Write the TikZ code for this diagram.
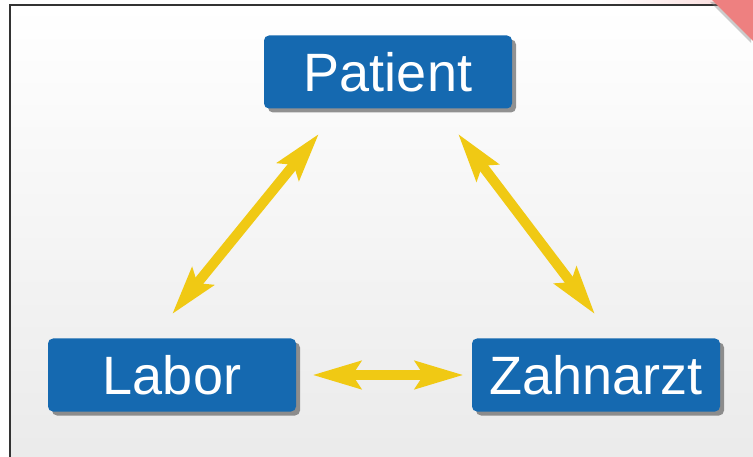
\documentclass[tikz,border=0pt]{standalone}
\usepackage{fontspec}
\setmainfont{Liberation Sans}
\usetikzlibrary{shapes,arrows.meta,positioning,shadows,calc}
\definecolor{nodecolor}{RGB}{21,105,176}
\definecolor{arrowcolor}{RGB}{240,201,20}
\definecolor{framecolor}{RGB}{51,51,51}
\definecolor{ribboncolor}{RGB}{238,128,128}

\begin{document}
\begin{tikzpicture}[
    x=1pt, y=-1pt,
    party/.style={rectangle, fill=nodecolor, rounded corners=5pt, minimum width=248pt, minimum height=73pt, inner sep=0pt, text=white, font=\fontsize{54}{60}\selectfont, drop shadow={shadow xshift=4pt, shadow yshift=-4pt, opacity=0.6, fill=black!70}},
    arrow/.style={{Stealth[length=48pt 0, width=27pt 0, inset=8pt 0]}-{Stealth[length=48pt 0, width=27pt 0, inset=8pt 0]}, line width=10pt, draw=arrowcolor, fill=arrowcolor}
]
\useasboundingbox (0,0) rectangle (753,457);

% Background and frame
\shade[top color=white, bottom color=black!8] (10,5) rectangle (753,457);
\shade[left color=white, right color=ribboncolor!25] (600,0) rectangle (716,4);
\draw[framecolor, line width=1.5pt] (10,457) -- (10,5) -- (740,5);
\fill[ribboncolor, drop shadow={shadow xshift=-2pt, shadow yshift=-2pt, opacity=0.4}] (712,0) -- (753,0) -- (753,41) -- cycle;

% Nodes
\node[party] (patient) at (388,72) {Patient};
\node[party] (labor) at (172,375) {Labor};
\node[party] (zahnarzt) at (596,375) {Zahnarzt};

% Arrows
\draw[arrow] ([yshift=24pt]labor.north) -- ([xshift=-69pt, yshift=-25pt]patient.south);
\draw[arrow] ([xshift=70pt, yshift=-25pt]patient.south) -- ([xshift=-1pt, yshift=24pt]zahnarzt.north);
\draw[arrow] ([xshift=16pt]labor.east) -- ([xshift=-8pt]zahnarzt.west);

\end{tikzpicture}
\end{document}
